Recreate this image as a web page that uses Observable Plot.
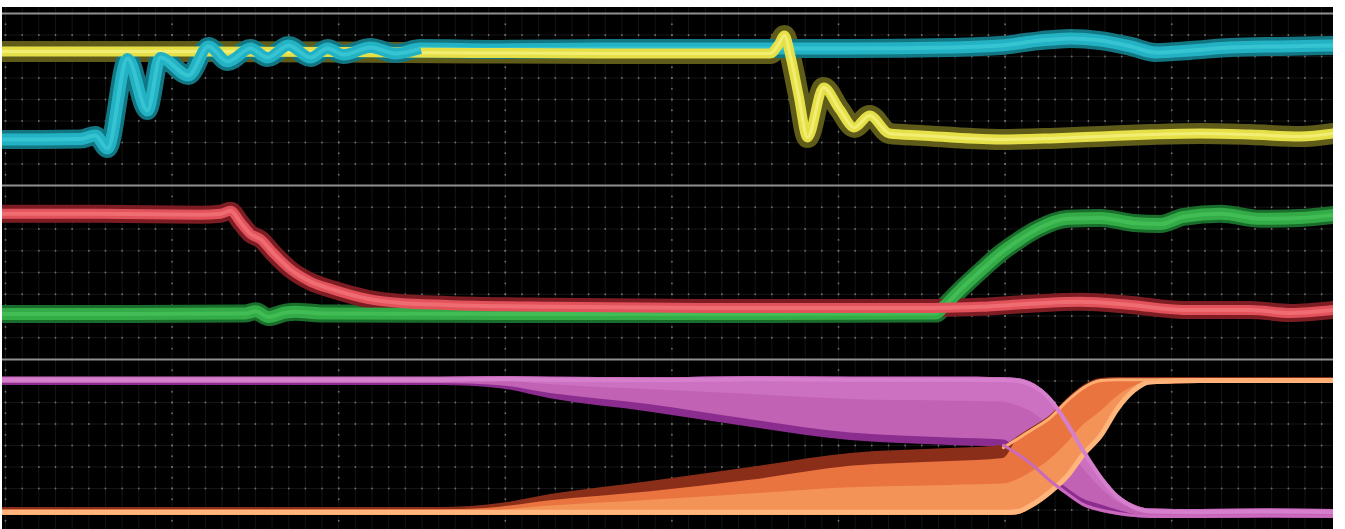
<!DOCTYPE html>
<html><head><meta charset="utf-8">
<script src="https://cdn.jsdelivr.net/npm/d3@7"></script>
<script src="https://cdn.jsdelivr.net/npm/@observablehq/plot@0.6"></script>
<style>
html,body{margin:0;padding:0;background:#fff;}
#scope{position:absolute;left:2px;top:7px;width:1331px;background:#000;overflow:hidden;}
#scope svg{display:block;}
</style></head><body><div id="scope"></div>
<script>
// Time axis: minor divisions (10 per major division). Vertical: divisions (8 per panel, -4..4).
// Panel 1 – cyan and yellow traces
const cyanT = [-0.18, 2.1, 4.5, 5.4, 6.12, 7.32, 8.52, 9.3, 10.98, 12.18, 13.33, 14.71, 15.73, 16.99, 18.31, 19.33, 20.29, 21.91, 23.41, 24.91, 29.71, 35.71, 41.72, 46.52, 50.72, 56.72, 59.72, 62.12, 63.93, 65.73, 67.53, 69.03, 71.13, 73.53, 76.53, 79.71];
const cyanV = [-1.86, -1.86, -1.84, -1.67, -2.28, 1.91, -0.51, 1.95, 1.12, 2.47, 1.77, 2.37, 1.95, 2.51, 1.95, 2.37, 2.09, 2.42, 2.14, 2.37, 2.33, 2.37, 2.37, 2.37, 2.37, 2.42, 2.51, 2.74, 2.84, 2.74, 2.47, 2.19, 2.28, 2.42, 2.47, 2.51];
const yellowT = [-0.18, 11.7, 23.7, 35.7, 41.72, 45.9, 46.4, 46.76, 47.12, 47.6, 48.14, 49.1, 50.06, 50.96, 51.86, 53.06, 54.92, 59.72, 62.72, 65.73, 68.73, 71.73, 74.73, 77.73, 79.71];
const yellowV = [2.23, 2.23, 2.19, 2.14, 2.14, 2.14, 2.55, 2.98, 2.0, 0.2, -1.77, 0.56, -0.45, -1.30, -0.74, -1.58, -1.67, -1.86, -1.81, -1.72, -1.63, -1.58, -1.63, -1.72, -1.58];
// Panel 2 – red and green traces
const redT = [-0.18, 5.7, 11.7, 12.91, 13.51, 14.11, 14.71, 15.31, 16.09, 17.11, 18.31, 19.69, 21.73, 23.71, 26.53, 32.71, 41.72, 55.82, 58.52, 61.52, 64.53, 67.53, 70.71, 74.73, 77.13, 79.71];
const redV = [2.70, 2.70, 2.66, 2.70, 2.84, 2.3, 1.77, 1.53, 0.88, 0.14, -0.42, -0.79, -1.21, -1.40, -1.49, -1.58, -1.63, -1.63, -1.58, -1.44, -1.35, -1.49, -1.72, -1.72, -1.86, -1.72];
const greenT = [-0.18, 7.7, 14.41, 15.01, 15.79, 16.81, 17.41, 18.91, 29.71, 41.72, 55.82, 56.42, 57.32, 58.7, 59.72, 60.74, 61.94, 63.75, 65.73, 67.71, 69.33, 70.71, 72.93, 75.33, 77.73, 79.71];
const greenV = [-1.91, -1.91, -1.88, -1.78, -2.05, -1.84, -1.8, -1.88, -1.91, -1.91, -1.89, -1.49, -0.79, 0.19, 0.88, 1.44, 2.0, 2.47, 2.51, 2.28, 2.23, 2.56, 2.70, 2.47, 2.51, 2.65];
// Panel 3 – persistence envelopes (magenta falling, orange rising)
const p3T   = [-0.18, 26.11, 29.71, 32.71, 38.72, 44.72, 50.72, 56.72, 59.9, 60.74, 61.52, 62.72, 63.75, 64.71, 65.73, 66.73, 67.71, 68.73, 71.73, 75.73, 79.71];
const magHi = [3.17, 3.17, 3.2, 3.17, 3.15, 3.2, 3.17, 3.17, 3.15, 3.12, 2.95, 2.25, 1.1, -0.15, -1.35, -2.25, -2.75, -2.95, -2.98, -2.95, -2.98];
const magLo = [2.79, 2.79, 2.64, 2.17, 1.55, 0.85, 0.23, 0.0, -0.09, -0.5, -0.93, -1.75, -2.35, -2.85, -3.1, -3.25, -3.35, -3.4, -3.4, -3.38, -3.4];
const orgHi = [-2.88, -2.88, -2.70, -2.28, -1.67, -1.02, -0.37, -0.14, 0.0, 0.4, 0.79, 1.40, 2.19, 2.79, 3.12, 3.16, 3.16, 3.16, 3.16, 3.16, 3.16];
const orgLo = [-3.26, -3.26, -3.26, -3.26, -3.26, -3.26, -3.26, -3.26, -3.26, -3.22, -2.95, -2.3, -1.55, -0.55, 0.3, 1.55, 2.4, 2.82, 2.88, 2.88, 2.88];
// Graticule
const minorTicks = d3.range(0, 81);
const rowTicks = d3.range(-3, 4);
const majorTicks = d3.range(0, 81, 10);
const halfRows = d3.range(-3.5, 4, 0.5);

const series = (T, V) => T.map((t, i) => ({t, v: V[i]}));
const cyan = series(cyanT, cyanV), yellow = series(yellowT, yellowV);
const red = series(redT, redV), green = series(greenT, greenV);
const p3 = p3T.map((t, i) => ({t, magHi: magHi[i], magLo: magLo[i], orgHi: orgHi[i], orgLo: orgLo[i]}));

function grid() {
  return [
    Plot.ruleX(minorTicks, {stroke: "#151515", strokeWidth: 1}),
    Plot.ruleY(rowTicks, {stroke: "#151515", strokeWidth: 1}),
    Plot.dot(d3.cross(minorTicks, rowTicks), {x: d => d[0], y: d => d[1], r: 0.9, fill: "#6f6f6f"}),
    Plot.dot(d3.cross(majorTicks, halfRows), {x: d => d[0], y: d => d[1], r: 0.9, fill: "#6f6f6f"})
  ];
}
const mono = "monotone-x";
function layer(data, color, width, filter, cap = "round") {
  return Plot.line(data, {x: "t", y: "v", filter, stroke: color, strokeWidth: width, curve: mono, strokeLinejoin: "round", strokeLinecap: cap});
}
function panel(h, yBot, yTop, marks) {
  return Plot.plot({
    width: 1331, height: h, margin: 0,
    x: {domain: [0, 80], range: [3, 1335.8], axis: null},
    y: {domain: [-4, 4], range: [yBot, yTop], axis: null},
    style: {background: "#000", overflow: "hidden"},
    marks: [...grid(), ...marks, Plot.ruleY([4], {stroke: "#8f8f8f", strokeWidth: 2})]
  });
}

const ringing = d => d.t <= 24.91;
const scope = document.getElementById("scope");
scope.append(panel(177, 178, 6, [
  layer(yellow, "#5f5c1a", 21),
  layer(cyan, "#137683", 19),
  layer(cyan, "#22b2c3", 12),
  layer(cyan, "#36c3d2", 4),
  layer(yellow, "#e6e048", 10),
  layer(yellow, "#f2ee74", 3),
  layer(cyan, "#22b2c3", 11, ringing, "butt"),
  layer(cyan, "#36c3d2", 4, ringing, "butt")
]));
scope.append(panel(174, 175, 1, [
  layer(green, "#1a6e2c", 18),
  layer(red, "#7e1c24", 18),
  layer(green, "#33ab47", 12),
  layer(green, "#42bc55", 4),
  layer(red, "#e2525b", 10),
  layer(red, "#ee6c72", 4)
]));
scope.append(panel(175, 173, 1, [
  Plot.areaY(p3, {x: "t", y1: "magLo", y2: "magHi", fill: "#8b2d8f", curve: mono}),
  Plot.areaY(p3, {x: "t", y1: d => d.magLo + Math.min(0.35, 0.25 * (d.magHi - d.magLo)), y2: "magHi", fill: "#c262b4", curve: mono}),
  Plot.areaY(p3, {x: "t", y1: d => d.magHi - 0.35 * (d.magHi - d.magLo), y2: "magHi", fill: "#cc70c1", curve: mono}),
  Plot.areaY(p3, {x: "t", y1: "orgLo", y2: "orgHi", fill: "#8a2e19", curve: mono}),
  Plot.areaY(p3, {x: "t", y1: "orgLo", y2: d => d.orgHi - (d.t > 59.9 ? 0.1 : Math.min(0.6, 0.3 * (d.orgHi - d.orgLo))), fill: "#ea7440", curve: mono}),
  Plot.areaY(p3, {x: "t", y1: "orgLo", y2: d => d.orgLo + 0.45 * (d.orgHi - d.orgLo), fill: "#f39358", curve: mono}),
  Plot.line(p3, {x: "t", y: d => d.orgLo + Math.min(0.15, (d.orgHi - d.orgLo) / 2), stroke: "#ffb57c", strokeWidth: 5, curve: mono}),
  Plot.line(p3, {x: "t", y: d => d.t >= 59.9 ? d.orgHi - 0.1 : NaN, stroke: "#ffae72", strokeWidth: 3, curve: mono}),
  Plot.line(p3, {x: "t", y: d => d.magHi - Math.min(0.12, (d.magHi - d.magLo) / 2), stroke: "#d680cd", strokeWidth: 4, curve: mono}),
  Plot.line(p3, {x: "t", y: d => d.t >= 59.9 ? d.magLo + 0.1 : NaN, stroke: "#c96abd", strokeWidth: 3, curve: mono})
]));
</script></body></html>
